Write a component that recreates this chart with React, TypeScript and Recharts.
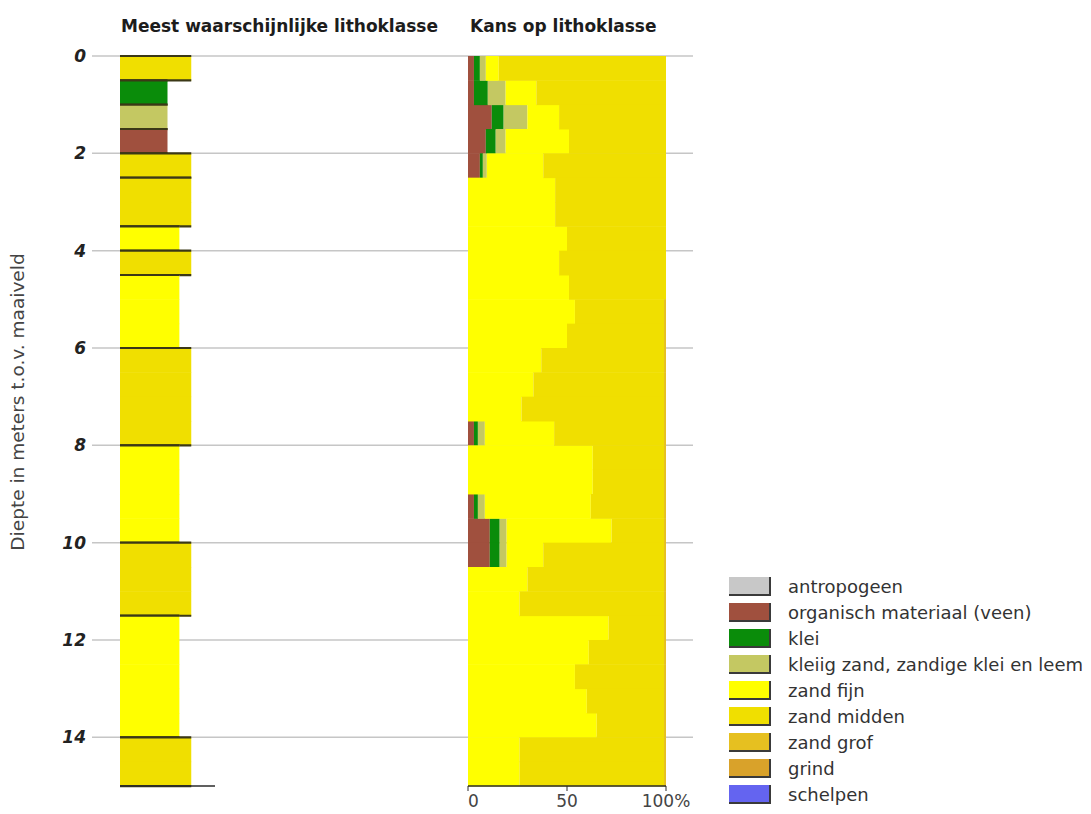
import React from "react";
import { BarChart, Bar, ComposedChart, XAxis, YAxis, CartesianGrid, Legend } from "recharts";

// 0.5 m depth intervals (top of each interval, m below surface)
const intervalTops = [
  0, 0.5, 1, 1.5, 2, 2.5, 3, 3.5, 4, 4.5, 5, 5.5, 6, 6.5, 7,
  7.5, 8, 8.5, 9, 9.5, 10, 10.5, 11, 11.5, 12, 12.5, 13, 13.5, 14, 14.5,
];
const maxDepth = 15;
const depthTicks = [0, 2, 4, 6, 8, 10, 12, 14];
const pctTicks = [0, 50, 100];
const lithoTicks = [4, 5, 6, 7, 8];

const classKeys = ["antropogeen", "veen", "klei", "kleiigZand", "zandFijn", "zandMidden", "zandGrof", "grind", "schelpen"];
const classLabels = [
  "antropogeen",
  "organisch materiaal (veen)",
  "klei",
  "kleiig zand, zandige klei en leem",
  "zand fijn",
  "zand midden",
  "zand grof",
  "grind",
  "schelpen",
];
const classColors = ["#c8c8c8", "#a0503e", "#0a8c0a", "#c4c862", "#ffff00", "#f0df00", "#e6c020", "#d9a22a", "#6464f0"];
// bar length of each class in the "most likely" column
const classWidths = [4, 4, 4, 4, 5, 6, 7, 8, 8];

// probabilities (%) per interval
const antropogeen = [0, 0, 0, 0, 0, 0, 0, 0, 0, 0, 0, 0, 0, 0, 0, 0, 0, 0, 0, 0, 0, 0, 0, 0, 0, 0, 0, 0, 0, 0];
const veen = [3, 3, 12, 9, 6, 0, 0, 0, 0, 0, 0, 0, 0, 0, 0, 3, 0, 0, 3, 11, 11, 0, 0, 0, 0, 0, 0, 0, 0, 0];
const klei = [3, 7, 6, 5, 1.5, 0, 0, 0, 0, 0, 0, 0, 0, 0, 0, 2, 0, 0, 2, 5, 5, 0, 0, 0, 0, 0, 0, 0, 0, 0];
const kleiigZand = [3, 9, 12, 5, 2, 0, 0, 0, 0, 0, 0, 0, 0, 0, 0, 3.5, 0, 0, 3.5, 3.5, 3.5, 0, 0, 0, 0, 0, 0, 0, 0, 0];
const zandFijn = [6.5, 15.5, 16, 32, 28.5, 44, 44, 50, 46, 51, 54, 50, 37, 33, 27, 35, 63, 63, 53.5, 53, 18.5, 30, 26, 71, 61, 54, 60, 65, 26, 26];
const zandMidden = [84.5, 65.5, 54, 49, 62, 56, 56, 50, 54, 49, 45, 49, 62, 66, 72, 55.5, 36, 36, 37, 26.5, 61, 69, 73, 28, 38, 45, 39, 34, 73, 73];
const zandGrof = [0, 0, 0, 0, 0, 0, 0, 0, 0, 0, 1, 1, 1, 1, 1, 1, 1, 1, 1, 1, 1, 1, 1, 1, 1, 1, 1, 1, 1, 1];
const grind = [0, 0, 0, 0, 0, 0, 0, 0, 0, 0, 0, 0, 0, 0, 0, 0, 0, 0, 0, 0, 0, 0, 0, 0, 0, 0, 0, 0, 0, 0];
const schelpen = [0, 0, 0, 0, 0, 0, 0, 0, 0, 0, 0, 0, 0, 0, 0, 0, 0, 0, 0, 0, 0, 0, 0, 0, 0, 0, 0, 0, 0, 0];
const series = [antropogeen, veen, klei, kleiigZand, zandFijn, zandMidden, zandGrof, grind, schelpen];

// most likely lithoclass, as layers
const layerTops = [0, 0.5, 1, 1.5, 2, 2.5, 3.5, 4, 4.5, 6, 8, 10, 11.5, 14];
const layerBottoms = [0.5, 1, 1.5, 2, 2.5, 3.5, 4, 4.5, 6, 8, 10, 11.5, 14, 15];
const layerClass = [5, 2, 3, 1, 5, 5, 4, 5, 4, 5, 4, 5, 4, 5];

const rows = intervalTops.map((top, i) => {
  const bottom = intervalTops[i + 1] ?? maxDepth;
  const li = layerTops.findIndex((t, k) => top >= t && top < layerBottoms[k]);
  const row: any = {
    mid: (top + bottom) / 2,
    cls: layerClass[li],
    litho: classWidths[layerClass[li]],
    topEdge: top === layerTops[li],
    bottomEdge: bottom === layerBottoms[li],
  };
  classKeys.forEach((k, c) => (row[k] = series[c][i]));
  return row;
});

// bars are truncated to whole pixels by recharts; stretch a little to close the seams
const SEAM = 0.8;

const LayerShape = (props: any) => {
  const { x, y, width, height, payload } = props;
  if (width == null || height == null) return null;
  const band = height + SEAM / 2;
  return (
    <g>
      <rect x={x} y={y} width={width} height={height + SEAM} fill={classColors[payload.cls]} />
      {payload.topEdge && <line x1={x} x2={x + width} y1={y} y2={y} stroke="#3b3816" strokeWidth={2.2} />}
      {payload.bottomEdge && (
        <line x1={x} x2={x + width} y1={y + band} y2={y + band} stroke="#3b3816" strokeWidth={2.2} />
      )}
    </g>
  );
};

const ProbShape = (props: any) => {
  const { x, y, width, height, fill } = props;
  if (!width || width <= 0) return null;
  return <rect x={x} y={y} width={width} height={height + SEAM} fill={fill} />;
};

const PctTick = (props: any) => {
  const { x, y, payload, index } = props;
  return (
    <text x={x} y={y} dy={14} textAnchor={index === 0 ? "start" : "middle"} fill="#444" fontSize={17}>
      {payload.value === 100 ? "100%" : payload.value}
    </text>
  );
};

const renderLegend = () => (
  <div>
    {classLabels.map((label, i) => (
      <div key={label} style={{ display: "flex", alignItems: "center", height: 26.1 }}>
        <svg width={44} height={21} style={{ flexShrink: 0 }}>
          <rect x={1} y={1} width={41} height={18} fill={classColors[i]} />
          <path d="M42,1 L42,19 L1,19" fill="none" stroke="#3a3a3a" strokeWidth={2} />
        </svg>
        <span style={{ marginLeft: 16, fontSize: 18, color: "#333", whiteSpace: "nowrap", flexShrink: 0 }}>
          {label}
        </span>
      </div>
    ))}
  </div>
);

const layer: React.CSSProperties = { position: "absolute", left: 0, top: 0 };
const titleStyle: React.CSSProperties = {
  position: "absolute",
  top: 16,
  fontSize: 17,
  lineHeight: "20px",
  fontWeight: 700,
  color: "#1c1c1c",
  whiteSpace: "nowrap",
};

export default function App() {
  return (
    <div
      style={{
        position: "absolute",
        left: 0,
        top: 0,
        width: 1091,
        height: 814,
        background: "#fff",
        fontFamily: '"DejaVu Sans", sans-serif',
        overflow: "hidden",
      }}
    >
      {/* depth axis + grid lines running under both panels */}
      <div style={layer}>
        <ComposedChart layout="vertical" width={700} height={814} data={rows} margin={{ top: 56, right: 7, bottom: 28, left: 0 }}>
          <CartesianGrid horizontal vertical={false} syncWithTicks stroke="#c6c6c6" strokeWidth={1.5} />
          <XAxis type="number" domain={[0, 100]} hide />
          <YAxis
            type="number"
            dataKey="mid"
            domain={[0, maxDepth]}
            ticks={depthTicks}
            interval={0}
            width={92}
            axisLine={false}
            tickLine={false}
            tickSize={6}
            tickMargin={0}
            tick={{ fill: "#222", fontSize: 17, fontWeight: 700, fontStyle: "italic" }}
          />
        </ComposedChart>
      </div>

      {/* most likely lithoclass */}
      <div style={layer}>
        <BarChart
          layout="vertical"
          width={1091}
          height={814}
          data={rows}
          margin={{ top: 56, right: 876, bottom: 0, left: 120 }}
          barCategoryGap={0}
          barGap={0}
        >
          <XAxis
            type="number"
            domain={[0, 8]}
            ticks={lithoTicks}
            tick={false}
            height={28}
            tickSize={5}
            axisLine={{ stroke: "#2b2b2b", strokeWidth: 1.5 }}
            tickLine={{ stroke: "#2b2b2b" }}
          />
          <YAxis type="number" dataKey="mid" domain={[0, maxDepth]} hide />
          <Bar dataKey="litho" isAnimationActive={false} shape={<LayerShape />} />
        </BarChart>
      </div>

      {/* probability per lithoclass */}
      <div style={layer}>
        <BarChart
          layout="vertical"
          width={1091}
          height={814}
          data={rows}
          margin={{ top: 56, right: 425, bottom: 0, left: 468 }}
          barCategoryGap={0}
          barGap={0}
        >
          <XAxis
            type="number"
            domain={[0, 100]}
            ticks={pctTicks}
            height={28}
            tickSize={5}
            tickMargin={2}
            axisLine={{ stroke: "#2b2b2b", strokeWidth: 1.5 }}
            tickLine={{ stroke: "#2b2b2b" }}
            tick={<PctTick />}
          />
          <YAxis type="number" dataKey="mid" domain={[0, maxDepth]} hide />
          {classKeys.map((k, i) => (
            <Bar
              key={k}
              dataKey={k}
              name={classLabels[i]}
              stackId="p"
              fill={classColors[i]}
              isAnimationActive={false}
              shape={<ProbShape />}
            />
          ))}
          <Legend
            layout="vertical"
            align="center"
            verticalAlign="middle"
            wrapperStyle={{ position: "absolute", left: 728, top: 573, width: 362 }}
            content={renderLegend}
          />
        </BarChart>
      </div>

      <div style={{ ...titleStyle, left: 121 }}>Meest waarschijnlijke lithoklasse</div>
      <div style={{ ...titleStyle, left: 470 }}>Kans op lithoklasse</div>
      <div
        style={{
          position: "absolute",
          left: 17,
          top: 402,
          transform: "translate(-50%, -50%) rotate(-90deg)",
          whiteSpace: "nowrap",
          fontSize: 18.5,
          color: "#444",
        }}
      >
        Diepte in meters t.o.v. maaiveld
      </div>
    </div>
  );
}
